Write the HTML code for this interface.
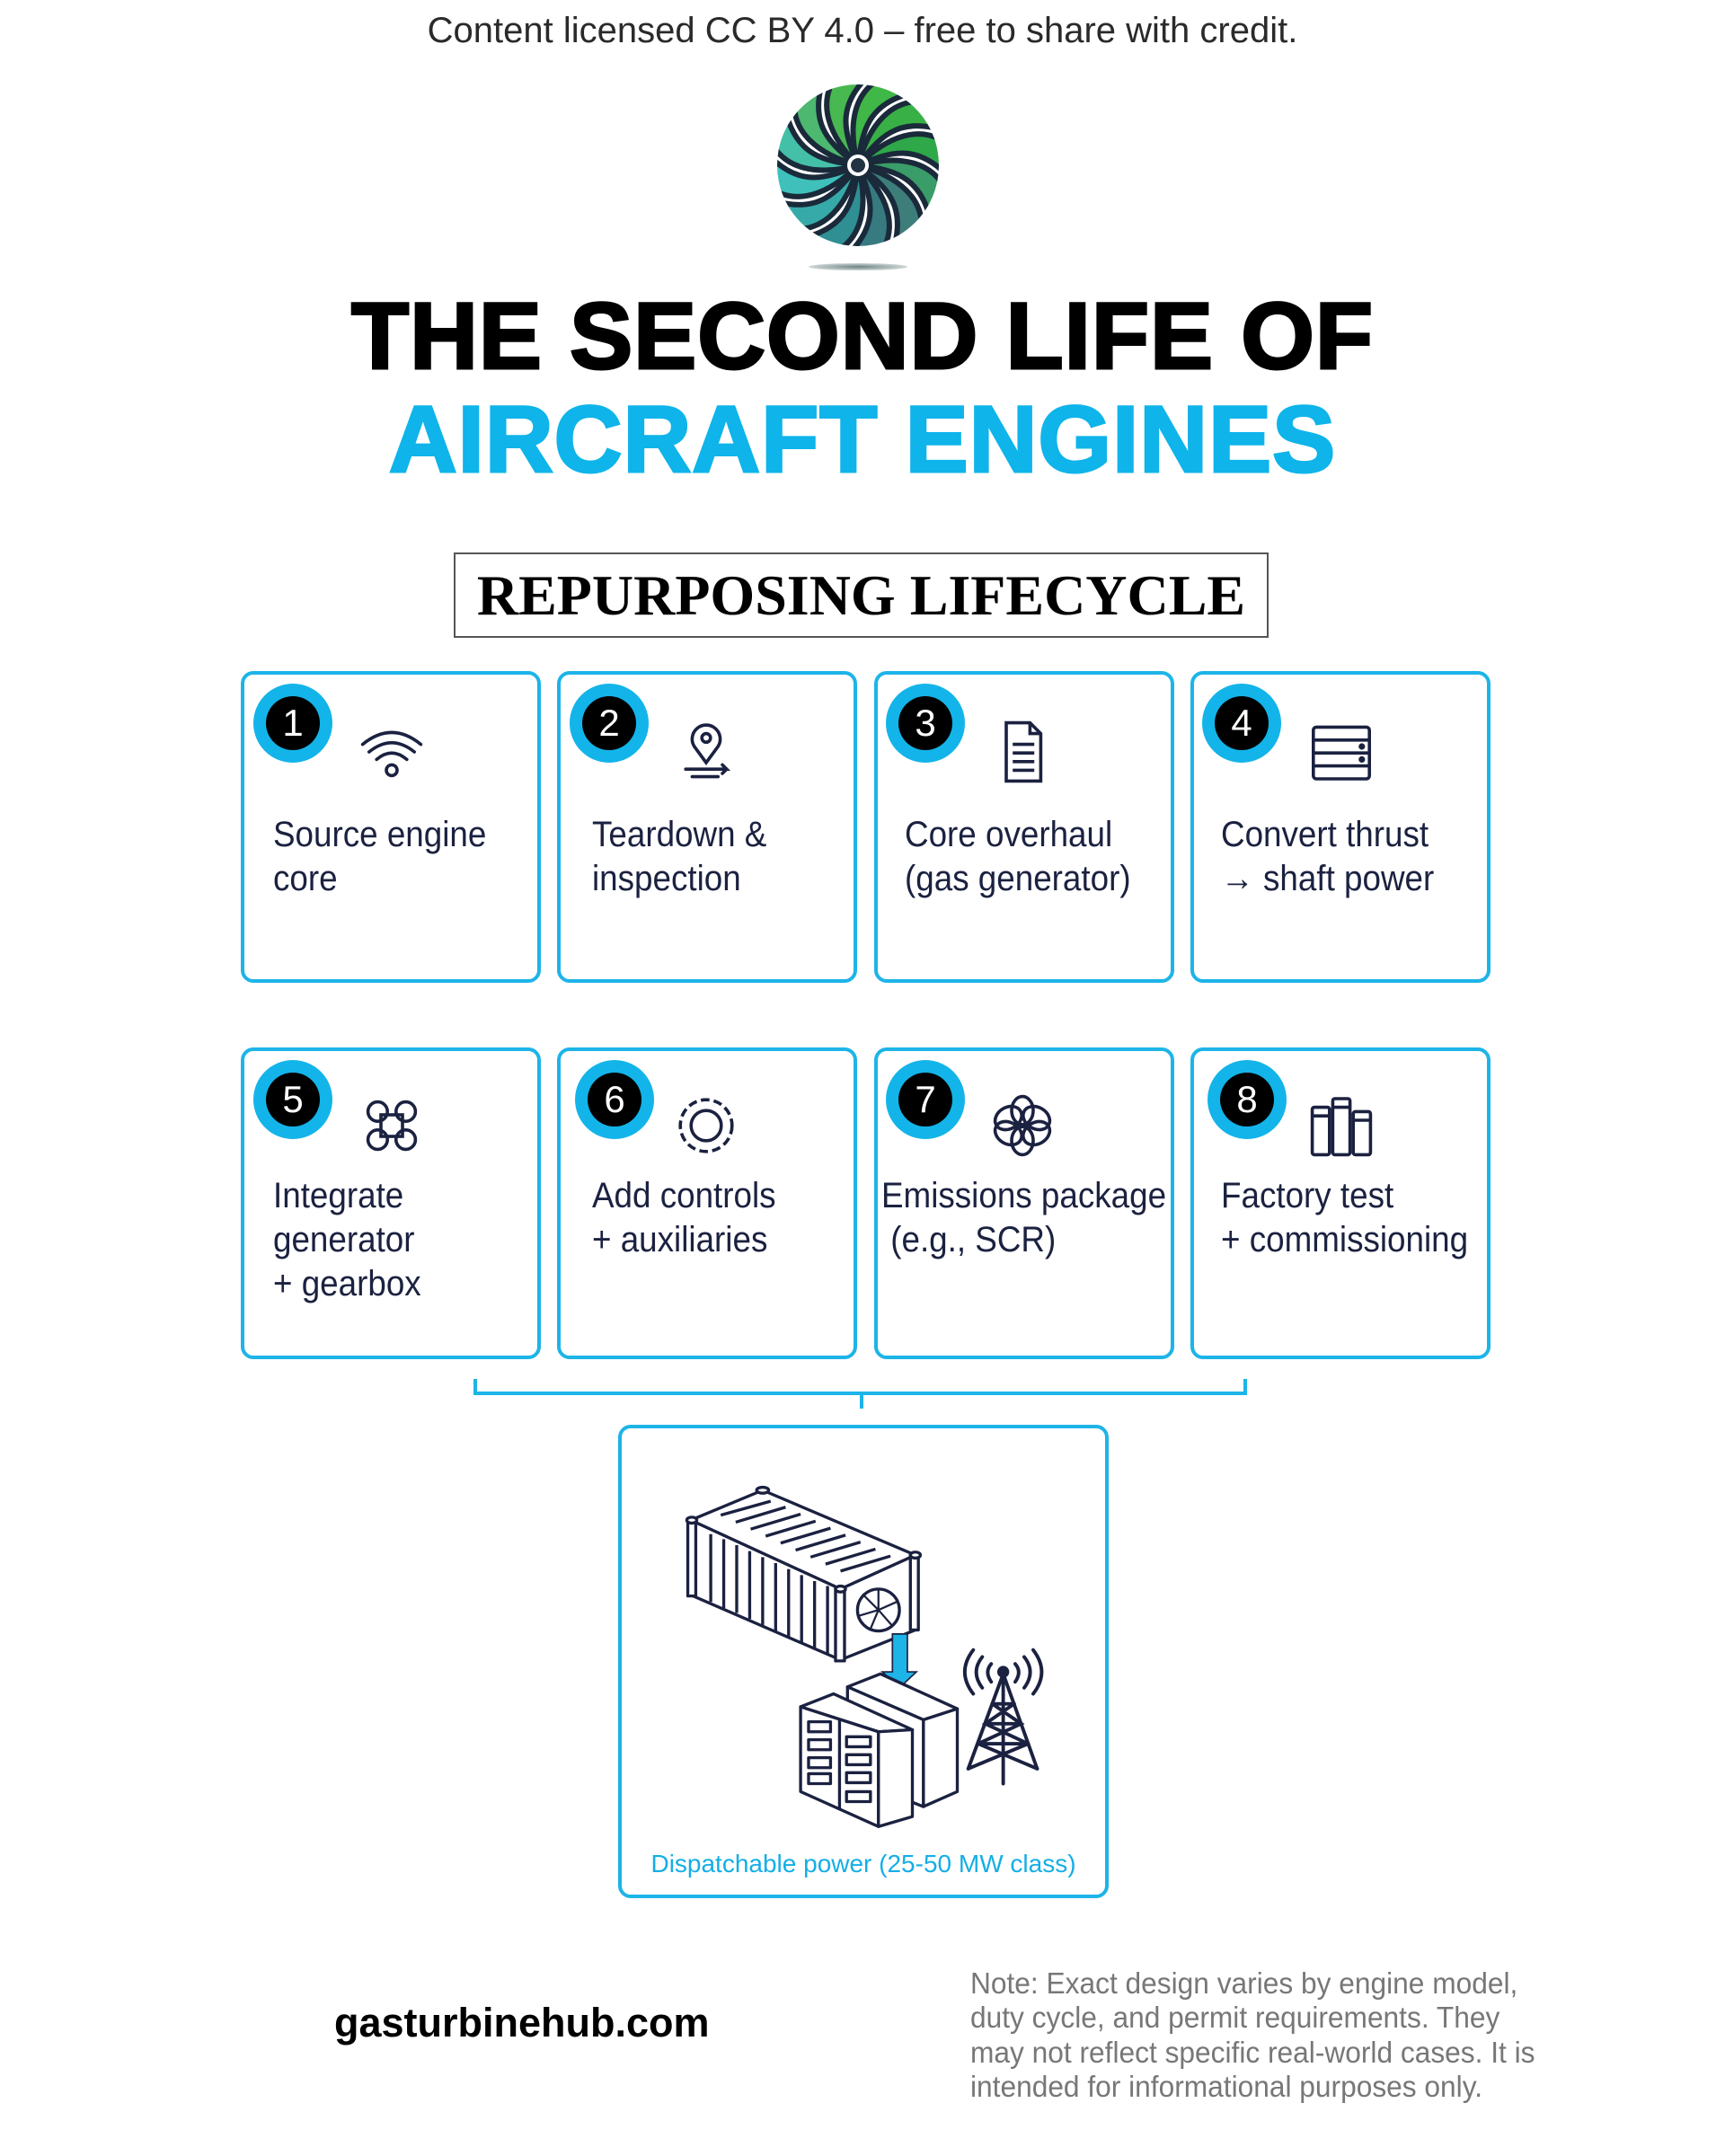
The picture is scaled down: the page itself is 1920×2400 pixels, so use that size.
<!DOCTYPE html>
<html><head><meta charset="utf-8"><style>
*{margin:0;padding:0;box-sizing:border-box}
body{width:1920px;height:2400px;background:#fff;position:relative;overflow:hidden;font-family:"Liberation Sans",Arial,sans-serif}
.a{position:absolute;white-space:nowrap}
.card{position:absolute;border:4px solid #1db4e8;border-radius:14px;width:334px;height:347px;background:#fff}
.badge{position:absolute;width:88px;height:88px;border-radius:50%;background:#13b4e9}
.badge span{position:absolute;left:14px;top:14px;width:60px;height:60px;border-radius:50%;background:#000;color:#fff;font-size:42px;line-height:60px;text-align:center}
.ct{position:absolute;font-size:40px;line-height:49px;color:#1b2140;white-space:nowrap;transform:scaleX(0.92);transform-origin:left top}
.ic{position:absolute;width:84px;height:84px}
</style></head><body>

<div class="a" style="left:0;width:1920px;top:10px;text-align:center;font-size:40px;line-height:48px;color:#2a2a2a">Content licensed CC BY 4.0 – free to share with credit.</div>

<svg class="a" style="left:855px;top:84px" width="200" height="220" viewBox="-100 -100 200 220">
<defs>
<radialGradient id="sh"><stop offset="0" stop-color="#6f8585"/><stop offset="1" stop-color="#cfd6d6"/></radialGradient>
<clipPath id="cc"><circle r="90"/></clipPath>
</defs>
<g clip-path="url(#cc)">
<path transform="rotate(0)" d="M0,0 C30,-30 70,-50 105,-20 L100,12 C65,-25 35,-15 0,0Z" fill="#2fa84a" stroke="#1a2a3a" stroke-width="6"/>
<path transform="rotate(30)" d="M0,0 C30,-30 70,-50 105,-20 L100,12 C65,-25 35,-15 0,0Z" fill="#3a9c68" stroke="#1a2a3a" stroke-width="6"/>
<path transform="rotate(60)" d="M0,0 C30,-30 70,-50 105,-20 L100,12 C65,-25 35,-15 0,0Z" fill="#3d7d7a" stroke="#1a2a3a" stroke-width="6"/>
<path transform="rotate(90)" d="M0,0 C30,-30 70,-50 105,-20 L100,12 C65,-25 35,-15 0,0Z" fill="#377a80" stroke="#1a2a3a" stroke-width="6"/>
<path transform="rotate(120)" d="M0,0 C30,-30 70,-50 105,-20 L100,12 C65,-25 35,-15 0,0Z" fill="#2f8f92" stroke="#1a2a3a" stroke-width="6"/>
<path transform="rotate(150)" d="M0,0 C30,-30 70,-50 105,-20 L100,12 C65,-25 35,-15 0,0Z" fill="#36aaa8" stroke="#1a2a3a" stroke-width="6"/>
<path transform="rotate(180)" d="M0,0 C30,-30 70,-50 105,-20 L100,12 C65,-25 35,-15 0,0Z" fill="#3fc0bb" stroke="#1a2a3a" stroke-width="6"/>
<path transform="rotate(210)" d="M0,0 C30,-30 70,-50 105,-20 L100,12 C65,-25 35,-15 0,0Z" fill="#45c0a8" stroke="#1a2a3a" stroke-width="6"/>
<path transform="rotate(240)" d="M0,0 C30,-30 70,-50 105,-20 L100,12 C65,-25 35,-15 0,0Z" fill="#4cb870" stroke="#1a2a3a" stroke-width="6"/>
<path transform="rotate(270)" d="M0,0 C30,-30 70,-50 105,-20 L100,12 C65,-25 35,-15 0,0Z" fill="#48b850" stroke="#1a2a3a" stroke-width="6"/>
<path transform="rotate(300)" d="M0,0 C30,-30 70,-50 105,-20 L100,12 C65,-25 35,-15 0,0Z" fill="#40b848" stroke="#1a2a3a" stroke-width="6"/>
<path transform="rotate(330)" d="M0,0 C30,-30 70,-50 105,-20 L100,12 C65,-25 35,-15 0,0Z" fill="#38b046" stroke="#1a2a3a" stroke-width="6"/>
</g>
<circle r="10" fill="#223344" stroke="#fff" stroke-width="4"/>
<ellipse cx="0" cy="113" rx="55" ry="4" fill="url(#sh)"/>
</svg>

<div class="a" style="left:0;width:1920px;top:313px;text-align:center;font-size:105px;line-height:124px;font-weight:bold;color:#000;-webkit-text-stroke:3px #000;letter-spacing:1px">THE SECOND LIFE OF</div>
<div class="a" style="left:0;width:1920px;top:428px;text-align:center;font-size:105px;line-height:124px;font-weight:bold;color:#0eb4ea;-webkit-text-stroke:3px #0eb4ea;letter-spacing:1px">AIRCRAFT ENGINES</div>

<div class="a" style="left:505px;top:615px;width:907px;height:95px;border:2px solid #555;text-align:center;font-family:'Liberation Serif',serif;font-weight:bold;font-size:64px;line-height:91px;color:#000">REPURPOSING LIFECYCLE</div>

<div class="card" style="left:268px;top:747px"></div>
<div class="card" style="left:620px;top:747px"></div>
<div class="card" style="left:973px;top:747px"></div>
<div class="card" style="left:1325px;top:747px"></div>
<div class="card" style="left:268px;top:1166px"></div>
<div class="card" style="left:620px;top:1166px"></div>
<div class="card" style="left:973px;top:1166px"></div>
<div class="card" style="left:1325px;top:1166px"></div>

<div class="badge" style="left:282px;top:761px"><span>1</span></div>
<div class="badge" style="left:634px;top:761px"><span>2</span></div>
<div class="badge" style="left:986px;top:761px"><span>3</span></div>
<div class="badge" style="left:1338px;top:761px"><span>4</span></div>
<div class="badge" style="left:282px;top:1180px"><span>5</span></div>
<div class="badge" style="left:640px;top:1180px"><span>6</span></div>
<div class="badge" style="left:986px;top:1180px"><span>7</span></div>
<div class="badge" style="left:1344px;top:1180px"><span>8</span></div>

<svg class="ic" style="left:394px;top:795px" viewBox="0 0 70 70" fill="none" stroke="#1b2140" stroke-width="3" stroke-linecap="round">
<path d="M8,28 Q35,6 62,28"/><path d="M14,35 Q35,18 56,35"/><path d="M21,42 Q35,30 49,42"/><circle cx="35" cy="52" r="5"/></svg>
<svg class="ic" style="left:744px;top:795px" viewBox="0 0 70 70" fill="none" stroke="#1b2140" stroke-width="3" stroke-linecap="round">
<path d="M35,45 L24,30 A13,13 0 1 1 46,30 Z"/><circle cx="35" cy="22" r="4"/><path d="M16,51 H54 L50,47 M54,51 L50,55"/><path d="M22,58 H46"/></svg>
<svg class="ic" style="left:1096px;top:795px" viewBox="0 0 70 70" fill="none" stroke="#1b2140" stroke-width="3">
<path d="M20,8 H42 L52,18 V62 H20 Z"/><path d="M42,8 V18 H52"/><path d="M26,28 H46 M26,36 H46 M26,44 H46 M26,52 H46"/></svg>
<svg class="ic" style="left:1451px;top:795px" viewBox="0 0 70 70" fill="none" stroke="#1b2140" stroke-width="3">
<rect x="9" y="12" width="52" height="48" rx="3"/><path d="M9,24 H61 M9,36 H61 M9,48 H61"/><circle cx="54" cy="30" r="1.5"/><circle cx="54" cy="42" r="1.5"/></svg>

<svg class="ic" style="left:394px;top:1211px" viewBox="0 0 70 70" fill="none" stroke="#1b2140" stroke-width="3">
<circle cx="22" cy="22" r="9"/><circle cx="48" cy="22" r="9"/><circle cx="22" cy="48" r="9"/><circle cx="48" cy="48" r="9"/><rect x="25" y="25" width="20" height="20"/></svg>
<svg class="ic" style="left:744px;top:1211px" viewBox="0 0 70 70" fill="none" stroke="#1b2140" stroke-width="3">
<circle cx="35" cy="35" r="24" stroke-dasharray="8 4"/><circle cx="35" cy="35" r="14"/></svg>
<svg class="ic" style="left:1096px;top:1211px" viewBox="0 0 70 70" fill="none" stroke="#1b2140" stroke-width="3">
<ellipse cx="35" cy="21" rx="10" ry="13"/><ellipse cx="35" cy="49" rx="10" ry="13"/><ellipse cx="22" cy="28" rx="10" ry="13" transform="rotate(60 22 28)"/><ellipse cx="48" cy="28" rx="10" ry="13" transform="rotate(-60 48 28)"/><ellipse cx="22" cy="42" rx="10" ry="13" transform="rotate(-60 22 42)"/><ellipse cx="48" cy="42" rx="10" ry="13" transform="rotate(60 48 42)"/></svg>
<svg class="ic" style="left:1451px;top:1211px" viewBox="0 0 70 70" fill="none" stroke="#1b2140" stroke-width="3">
<rect x="8" y="18" width="16" height="44" rx="2"/><rect x="27" y="10" width="16" height="52" rx="2"/><rect x="46" y="22" width="16" height="40" rx="2"/><path d="M8,26 H24 M27,18 H43 M46,30 H62"/></svg>

<div class="ct" style="left:304px;top:905px">Source engine<br>core</div>
<div class="ct" style="left:659px;top:905px">Teardown &amp;<br>inspection</div>
<div class="ct" style="left:1007px;top:905px">Core overhaul<br>(gas generator)</div>
<div class="ct" style="left:1359px;top:905px">Convert thrust<br>→ shaft power</div>
<div class="ct" style="left:304px;top:1307px">Integrate<br>generator<br>+ gearbox</div>
<div class="ct" style="left:659px;top:1307px">Add controls<br>+ auxiliaries</div>
<div class="ct" style="left:981px;top:1307px">Emissions package<br>&nbsp;(e.g., SCR)</div>
<div class="ct" style="left:1359px;top:1307px">Factory test<br>+ commissioning</div>

<svg class="a" style="left:0;top:0" width="1920" height="2400">
<path d="M529,1535 V1551 H1386 V1535 M959,1551 V1568" fill="none" stroke="#1db4e8" stroke-width="4"/>
<rect x="690" y="1588" width="542" height="523" rx="12" fill="#fff" stroke="#1db4e8" stroke-width="4"/>
<g transform="translate(680,1550) scale(1.111) translate(-680,-1550)">
<g fill="#fff" stroke="#1b2140" stroke-width="3" stroke-linejoin="round">
<polygon points="760,1678 832,1648 985,1713 910,1747"/>
<polygon points="760,1678 910,1747 910,1818 760,1753"/>
<polygon points="910,1747 985,1713 985,1788 910,1818"/>
<rect x="757" y="1678" width="8" height="76"/><rect x="905" y="1746" width="9" height="73"/><rect x="980" y="1712" width="8" height="76"/>
<ellipse cx="761" cy="1678" rx="5" ry="3"/><ellipse cx="832" cy="1648" rx="6" ry="3"/><ellipse cx="985" cy="1713" rx="5" ry="3"/><ellipse cx="910" cy="1747" rx="5" ry="3"/>
</g>
<g stroke="#1b2140" stroke-width="3">
<path d="M780,1692 V1760 M793,1697 V1766 M806,1703 V1771 M819,1709 V1777 M832,1715 V1783 M845,1721 V1789 M858,1727 V1795 M871,1733 V1801 M884,1739 V1807 M897,1744 V1812"/>
<path d="M790,1673 L840,1659 M805,1680 L855,1665 M820,1687 L870,1672 M835,1694 L885,1679 M850,1701 L900,1686 M865,1708 L915,1693 M880,1715 L930,1700 M895,1722 L945,1707 M910,1729 L960,1714"/>
</g>
<circle cx="948" cy="1768" r="21" fill="#fff" stroke="#1b2140" stroke-width="3"/>
<g stroke="#1b2140" stroke-width="2" fill="none"><path d="M948,1768 L948,1748 M948,1768 L966,1760 M948,1768 L962,1784 M948,1768 L940,1787 M948,1768 L928,1774 M948,1768 L932,1752"/></g>
<polygon points="962,1792 977,1792 977,1830 986,1830 969,1846 952,1830 962,1830" fill="#1db4e8" stroke="#1b2140" stroke-width="1.5"/>
<g fill="#fff" stroke="#1b2140" stroke-width="3" stroke-linejoin="round">
<polygon points="917,1845 950,1832 1027,1867 993,1878"/>
<polygon points="993,1878 1027,1867 1027,1950 993,1965"/>
<polygon points="917,1845 993,1878 993,1965 917,1935"/>
<polygon points="870,1865 903,1852 982,1888 948,1890"/>
<polygon points="870,1865 948,1890 948,1985 870,1950"/>
<polygon points="948,1890 982,1888 982,1975 948,1985"/>
<path d="M909,1878 V1968"/>
<rect x="878" y="1880" width="22" height="10"/><rect x="878" y="1898" width="22" height="10"/><rect x="878" y="1916" width="22" height="10"/><rect x="878" y="1932" width="22" height="10"/>
<rect x="916" y="1895" width="24" height="10"/><rect x="916" y="1913" width="24" height="10"/><rect x="916" y="1931" width="24" height="10"/><rect x="916" y="1950" width="24" height="10"/>
</g>
<g stroke="#1b2140" stroke-width="3.5" fill="none" stroke-linecap="round">
<path d="M1073,1832 L1038,1927 M1073,1832 L1107,1927 M1073,1832 V1942"/>
<path d="M1062,1862 H1084 M1055,1882 H1091 M1048,1902 H1098 M1062,1862 L1091,1882 L1048,1902 M1084,1862 L1055,1882 L1098,1902 M1048,1902 L1107,1927 M1098,1902 L1038,1927"/>
<path d="M1061,1822 Q1054,1830 1061,1840 M1085,1822 Q1092,1830 1085,1840 M1052,1815 Q1040,1830 1052,1846 M1094,1815 Q1106,1830 1094,1846 M1043,1808 Q1026,1830 1043,1852 M1103,1808 Q1120,1830 1103,1852"/>
</g>
<circle cx="1073" cy="1830" r="6" fill="#1b2140"/>
</g>
</svg>

<div class="a" style="left:690px;width:542px;top:2058px;text-align:center;font-size:28px;line-height:34px;color:#14aee6">Dispatchable power (25-50 MW class)</div>

<div class="a" style="left:372px;top:2225px;font-size:45px;line-height:54px;font-weight:bold;color:#000">gasturbinehub.com</div>

<div class="a" style="left:1080px;top:2189px;font-size:33px;line-height:38.3px;color:#777;transform:scaleX(0.96);transform-origin:left top">Note: Exact design varies by engine model,<br>duty cycle, and permit requirements. They<br>may not reflect specific real-world cases. It is<br>intended for informational purposes only.</div>

</body></html>
